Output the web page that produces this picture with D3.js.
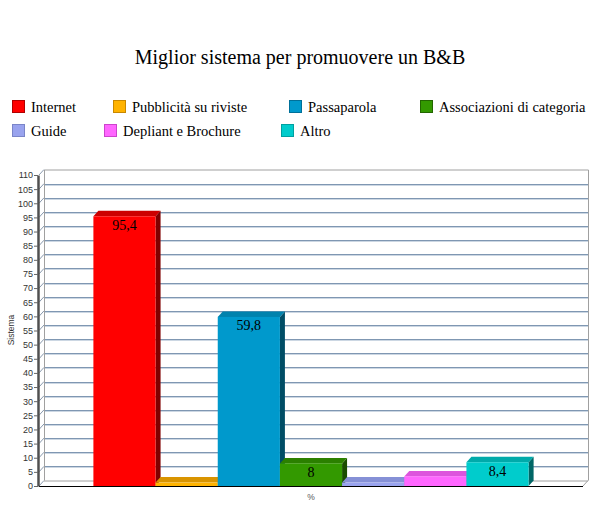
<!DOCTYPE html>
<html><head><meta charset="utf-8">
<script src="https://cdn.jsdelivr.net/npm/d3@7"></script>
<style>body{margin:0;background:#fff}svg{display:block}</style>
</head><body>
<svg id="c" width="600" height="529"></svg>
<script>
const title = "Miglior sistema per promuovere un B&B";
const series = ["Internet","Pubblicità su riviste","Passaparola","Associazioni di categoria","Guide","Depliant e Brochure","Altro"];
const values = [95.4, 1.2, 59.8, 8, 1.2, 3.4, 8.4];
const yTicks = d3.range(0, 111, 5);
const yTitle = "Sistema";
const xTitle = "%";

const front = ["#FF0000","#FFB300","#0099CC","#339900","#99A3EE","#FF66FF","#00CCCC"];
const top_ = ["#CC0000","#D99400","#0082AD","#2B8000","#8590D6","#DD55DD","#00AAAA"];
const side = ["#800000","#8C6100","#004D66","#1A4D00","#5A6199","#993399","#006666"];
const legendBorder = ["#B00000","#C88800","#007099","#226600","#7A85C8","#CC44CC","#00A0A0"];

const svg = d3.select("#c");
const L = 39, R = 583, Y0 = 486, Y1 = 175, DX = 5, DY = 5.5;
const y = d3.scaleLinear().domain([0,110]).range([Y0, Y1]);
const x = d3.scaleBand().domain(series).range([L + 0.1*(R-L), R - 0.1*(R-L)]);
const fmt = d3.formatLocale({decimal:",",thousands:".",grouping:[3],currency:["€",""]}).format("~f");

// title
svg.append("text").attr("x",300).attr("y",64).attr("text-anchor","middle")
  .attr("font-family","Liberation Serif, Times New Roman, serif").attr("font-size",20).attr("fill","#000").text(title);

// legend
const legPos = [[12,107],[113,107],[289,107],[420,107],[12,131],[104,131],[281,131]];
series.forEach((s,i)=>{
  const [lx,ly] = legPos[i];
  svg.append("rect").attr("x",lx+0.5).attr("y",ly-6.5).attr("width",12).attr("height",12)
    .attr("fill",front[i]).attr("stroke",legendBorder[i]).attr("stroke-width",1);
  svg.append("text").attr("x",lx+19).attr("y",ly+5).attr("font-family","Liberation Serif, Times New Roman, serif")
    .attr("font-size",14.5).attr("fill","#000").text(s);
});

// back wall
const gBack = svg.append("g");
yTicks.forEach(v=>{
  const yy = Math.round(y(v)-DY);
  if (v>0 && v<110) {
    gBack.append("line").attr("x1",L+DX).attr("x2",R+DX).attr("y1",yy+0.5).attr("y2",yy+0.5).attr("stroke","#7F97B2");
    gBack.append("line").attr("x1",L+DX).attr("x2",R+DX).attr("y1",yy+1.5).attr("y2",yy+1.5).attr("stroke","#CCD7E3");
  }
  // diagonal tick
  gBack.append("line").attr("x1",L).attr("y1",y(v)).attr("x2",L+DX).attr("y2",y(v)-DY).attr("stroke","#8A9AAE");
});
// wall borders
gBack.append("path").attr("d",`M${L+DX+0.5},${y(0)-DY}V${y(110)-DY+0.5}H${R+DX+0.5}V${y(0)-DY}`)
  .attr("fill","none").attr("stroke","#A0A0A0");
// floor back line
gBack.append("line").attr("x1",L+DX).attr("x2",R+DX).attr("y1",y(0)-DY+0.5).attr("y2",y(0)-DY+0.5).attr("stroke","#A0A0A0");
gBack.append("line").attr("x1",R).attr("y1",Y0).attr("x2",R+DX).attr("y2",Y0-DY).attr("stroke","#A0A0A0");

// bars
const gBars = svg.append("g");
series.forEach((s,i)=>{
  const x0 = x(s), w = x.bandwidth(), yt = y(values[i]);
  gBars.append("path").attr("d",`M${x0+w},${Y0}L${x0+w+DX},${Y0-DY}L${x0+w+DX},${yt-DY}L${x0+w},${yt}Z`).attr("fill",side[i]);
  gBars.append("path").attr("d",`M${x0},${yt}L${x0+DX},${yt-DY}L${x0+w+DX},${yt-DY}L${x0+w},${yt}Z`).attr("fill",top_[i]);
  gBars.append("rect").attr("x",x0).attr("y",yt).attr("width",w).attr("height",Y0-yt).attr("fill",front[i]);
  if (values[i] >= 5) {
    gBars.append("text").attr("x",x0+w/2).attr("y",yt+13.5).attr("text-anchor","middle")
      .attr("font-family","Liberation Serif, Times New Roman, serif").attr("font-size",14).attr("fill","#000")
      .text(fmt(values[i]));
  }
});

// floor front line
svg.append("line").attr("x1",L).attr("x2",R).attr("y1",Y0+0.5).attr("y2",Y0+0.5).attr("stroke","#000").attr("stroke-width",1.2);

// y axis
const ax = svg.append("g").attr("transform",`translate(${L-1},0)`)
  .call(d3.axisLeft(y).tickValues(yTicks).tickSize(4).tickPadding(1).tickSizeOuter(0));
ax.select(".domain").attr("stroke","#505050").attr("stroke-width",2.5);
ax.selectAll(".tick line").attr("stroke","#666");
ax.selectAll(".tick text").attr("font-family","Liberation Sans, Arial, sans-serif").attr("font-size",9).attr("fill","#333");

// axis titles
svg.append("text").attr("transform","translate(14,330) rotate(-90)").attr("text-anchor","middle")
  .attr("font-family","Liberation Sans, Arial, sans-serif").attr("font-size",8.5).attr("fill","#333").text(yTitle);
svg.append("text").attr("x",311).attr("y",500).attr("text-anchor","middle")
  .attr("font-family","Liberation Sans, Arial, sans-serif").attr("font-size",8.5).attr("fill","#555").text(xTitle);
</script>
</body></html>
